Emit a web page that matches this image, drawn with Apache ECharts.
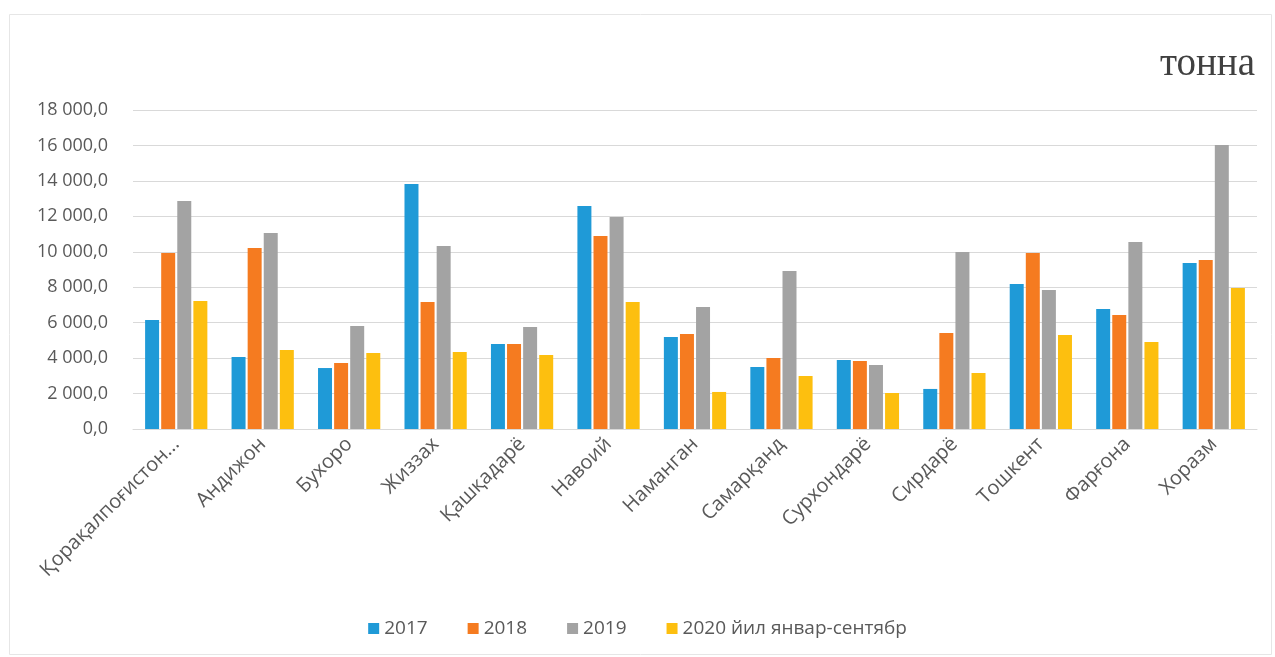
<!DOCTYPE html>
<html><head><meta charset="utf-8">
<script src="https://cdn.jsdelivr.net/npm/echarts@6/dist/echarts.min.js"></script>
<style>html,body{margin:0;padding:0;background:#fff}#c{width:1275px;height:657px}</style>
</head><body><div id="c"></div>
<script>
const categories = ['Қорақалпоғистон...', 'Андижон', 'Бухоро', 'Жиззах', 'Қашқадарё', 'Навоий', 'Наманган', 'Самарқанд', 'Сурхондарё', 'Сирдарё', 'Тошкент', 'Фарғона', 'Хоразм'];
const seriesNames = ['2017', '2018', '2019', '2020 йил январ-сентябр'];
const v2017 = [6150, 4060, 3440, 13820, 4800, 12580, 5190, 3500, 3890, 2260, 8180, 6770, 9370];
const v2018 = [9930, 10210, 3720, 7170, 4800, 10890, 5360, 4010, 3840, 5420, 9930, 6430, 9540];
const v2019 = [12860, 11060, 5810, 10330, 5760, 11960, 6880, 8920, 3610, 9990, 7840, 10550, 16020];
const v2020 = [7220, 4460, 4290, 4340, 4180, 7170, 2090, 2990, 2030, 3160, 5300, 4910, 7960];
const unitLabel = 'тонна';

const colors = ['#1f9ad7', '#f57b20', '#a3a3a3', '#fdbf0f'];
const allValues = [v2017, v2018, v2019, v2020];

function fmt(v) {
  const s = Math.round(v).toString().replace(/\B(?=(\d{3})+(?!\d))/g, ' ');
  return s + ',0';
}

const chart = echarts.init(document.getElementById('c'));
chart.setOption({
  animation: false,
  backgroundColor: '#fff',
  graphic: [
    { type: 'rect', shape: { x: 9.5, y: 14.5, width: 1262, height: 640 }, style: { fill: 'none', stroke: '#e6e6e6', lineWidth: 1 } },
    { type: 'text', right: 20, top: 45, style: { text: unitLabel, font: '39px "Liberation Serif", "DejaVu Serif", serif', fill: '#404040' } }
  ],
  legend: {
    bottom: 14,
    left: 'center',
    itemWidth: 11, itemHeight: 11, itemGap: 40,
    icon: 'rect',
    textStyle: { fontFamily: 'Open Sans, Noto Sans, sans-serif', fontSize: 19, color: '#595959' },
    data: seriesNames
  },
  grid: { left: 133, right: 18, top: 110, bottom: 228, containLabel: false },
  xAxis: {
    type: 'category',
    data: categories,
    axisLine: { lineStyle: { color: '#d9d9d9' } },
    axisTick: { show: false },
    axisLabel: { rotate: 45, interval: 0, margin: 12, fontFamily: 'Open Sans, Noto Sans, sans-serif', fontSize: 20, color: '#595959' }
  },
  yAxis: {
    type: 'value',
    min: 0, max: 18000, interval: 2000,
    axisLine: { show: false },
    axisTick: { show: false },
    splitLine: { lineStyle: { color: '#d9d9d9' } },
    axisLabel: { formatter: fmt, margin: 25, fontFamily: 'Open Sans, Noto Sans, sans-serif', fontSize: 18, color: '#595959' }
  },
  series: seriesNames.map((n, i) => ({
    name: n,
    type: 'bar',
    data: allValues[i],
    barGap: '15%',
    barCategoryGap: '28%',
    itemStyle: { color: colors[i] }
  }))
});
</script></body></html>
